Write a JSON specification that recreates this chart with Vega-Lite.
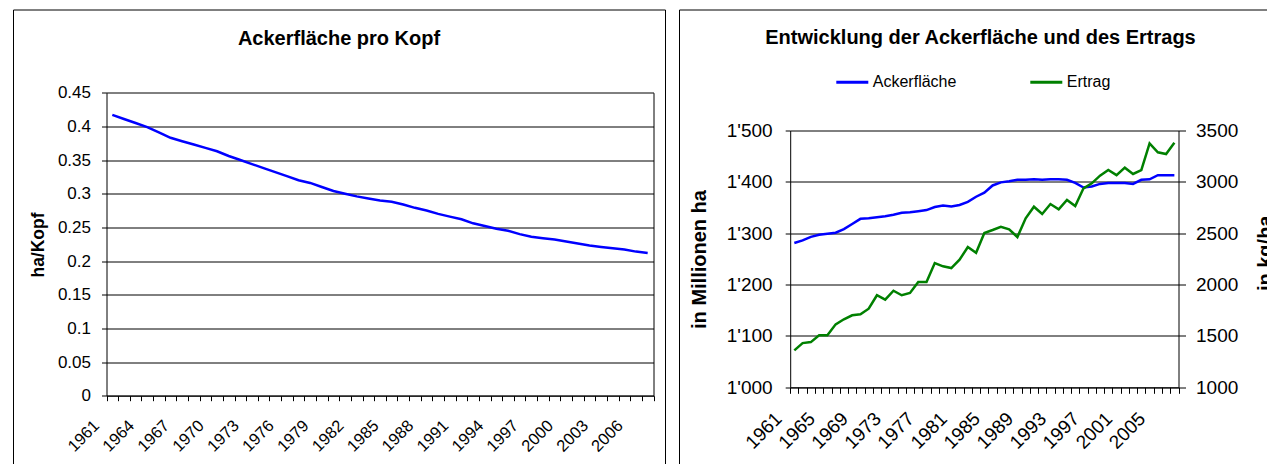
{
  "$schema": "https://vega.github.io/schema/vega-lite/v6.json",
  "padding": {"left": 6, "top": 8.5, "right": 0, "bottom": 0},
  "background": "white",
  "bounds": "flush",
  "spacing": 14,
  "config": {
    "view": {"stroke": "black", "strokeWidth": 1},
    "font": "Liberation Sans",
    "axis": {"labelFont": "Liberation Sans", "titleFont": "Liberation Sans", "labelColor": "black", "titleColor": "black", "domainColor": "black", "tickColor": "black", "gridColor": "black", "gridOpacity": 1, "labelOverlap": false, "labelBound": false, "labelFlush": false}
  },
  "datasets": {
    "kopf": [
      {"year": 1961, "v": 0.417}, {"year": 1962, "v": 0.411}, {"year": 1963, "v": 0.405}, {"year": 1964, "v": 0.399},
      {"year": 1965, "v": 0.391}, {"year": 1966, "v": 0.383}, {"year": 1967, "v": 0.378}, {"year": 1968, "v": 0.373},
      {"year": 1969, "v": 0.368}, {"year": 1970, "v": 0.363}, {"year": 1971, "v": 0.356}, {"year": 1972, "v": 0.350},
      {"year": 1973, "v": 0.344}, {"year": 1974, "v": 0.338}, {"year": 1975, "v": 0.332}, {"year": 1976, "v": 0.326},
      {"year": 1977, "v": 0.320}, {"year": 1978, "v": 0.316}, {"year": 1979, "v": 0.310}, {"year": 1980, "v": 0.304},
      {"year": 1981, "v": 0.300}, {"year": 1982, "v": 0.296}, {"year": 1983, "v": 0.293}, {"year": 1984, "v": 0.290},
      {"year": 1985, "v": 0.288}, {"year": 1986, "v": 0.284}, {"year": 1987, "v": 0.279}, {"year": 1988, "v": 0.275},
      {"year": 1989, "v": 0.270}, {"year": 1990, "v": 0.266}, {"year": 1991, "v": 0.262}, {"year": 1992, "v": 0.256},
      {"year": 1993, "v": 0.252}, {"year": 1994, "v": 0.248}, {"year": 1995, "v": 0.245}, {"year": 1996, "v": 0.240},
      {"year": 1997, "v": 0.236}, {"year": 1998, "v": 0.234}, {"year": 1999, "v": 0.232}, {"year": 2000, "v": 0.229},
      {"year": 2001, "v": 0.226}, {"year": 2002, "v": 0.223}, {"year": 2003, "v": 0.221}, {"year": 2004, "v": 0.219},
      {"year": 2005, "v": 0.217}, {"year": 2006, "v": 0.214}, {"year": 2007, "v": 0.212}
    ],
    "right": [
      {"year": 1961, "series": "Ackerfläche", "value": 1281}, {"year": 1962, "series": "Ackerfläche", "value": 1286},
      {"year": 1963, "series": "Ackerfläche", "value": 1293}, {"year": 1964, "series": "Ackerfläche", "value": 1297},
      {"year": 1965, "series": "Ackerfläche", "value": 1299}, {"year": 1966, "series": "Ackerfläche", "value": 1301},
      {"year": 1967, "series": "Ackerfläche", "value": 1308}, {"year": 1968, "series": "Ackerfläche", "value": 1318},
      {"year": 1969, "series": "Ackerfläche", "value": 1328}, {"year": 1970, "series": "Ackerfläche", "value": 1329},
      {"year": 1971, "series": "Ackerfläche", "value": 1331}, {"year": 1972, "series": "Ackerfläche", "value": 1333},
      {"year": 1973, "series": "Ackerfläche", "value": 1336}, {"year": 1974, "series": "Ackerfläche", "value": 1340},
      {"year": 1975, "series": "Ackerfläche", "value": 1341}, {"year": 1976, "series": "Ackerfläche", "value": 1343},
      {"year": 1977, "series": "Ackerfläche", "value": 1345}, {"year": 1978, "series": "Ackerfläche", "value": 1351},
      {"year": 1979, "series": "Ackerfläche", "value": 1354}, {"year": 1980, "series": "Ackerfläche", "value": 1352},
      {"year": 1981, "series": "Ackerfläche", "value": 1355}, {"year": 1982, "series": "Ackerfläche", "value": 1361},
      {"year": 1983, "series": "Ackerfläche", "value": 1371}, {"year": 1984, "series": "Ackerfläche", "value": 1379},
      {"year": 1985, "series": "Ackerfläche", "value": 1393}, {"year": 1986, "series": "Ackerfläche", "value": 1399},
      {"year": 1987, "series": "Ackerfläche", "value": 1401}, {"year": 1988, "series": "Ackerfläche", "value": 1404},
      {"year": 1989, "series": "Ackerfläche", "value": 1404}, {"year": 1990, "series": "Ackerfläche", "value": 1405},
      {"year": 1991, "series": "Ackerfläche", "value": 1404}, {"year": 1992, "series": "Ackerfläche", "value": 1405},
      {"year": 1993, "series": "Ackerfläche", "value": 1405}, {"year": 1994, "series": "Ackerfläche", "value": 1404},
      {"year": 1995, "series": "Ackerfläche", "value": 1398}, {"year": 1996, "series": "Ackerfläche", "value": 1389},
      {"year": 1997, "series": "Ackerfläche", "value": 1391}, {"year": 1998, "series": "Ackerfläche", "value": 1396},
      {"year": 1999, "series": "Ackerfläche", "value": 1398}, {"year": 2000, "series": "Ackerfläche", "value": 1398},
      {"year": 2001, "series": "Ackerfläche", "value": 1398}, {"year": 2002, "series": "Ackerfläche", "value": 1396},
      {"year": 2003, "series": "Ackerfläche", "value": 1404}, {"year": 2004, "series": "Ackerfläche", "value": 1405},
      {"year": 2005, "series": "Ackerfläche", "value": 1413}, {"year": 2006, "series": "Ackerfläche", "value": 1413},
      {"year": 2007, "series": "Ackerfläche", "value": 1413},
      {"year": 1961, "series": "Ertrag", "value": 1360}, {"year": 1962, "series": "Ertrag", "value": 1430},
      {"year": 1963, "series": "Ertrag", "value": 1440}, {"year": 1964, "series": "Ertrag", "value": 1506},
      {"year": 1965, "series": "Ertrag", "value": 1506}, {"year": 1966, "series": "Ertrag", "value": 1613},
      {"year": 1967, "series": "Ertrag", "value": 1662}, {"year": 1968, "series": "Ertrag", "value": 1701},
      {"year": 1969, "series": "Ertrag", "value": 1711}, {"year": 1970, "series": "Ertrag", "value": 1765},
      {"year": 1971, "series": "Ertrag", "value": 1896}, {"year": 1972, "series": "Ertrag", "value": 1853},
      {"year": 1973, "series": "Ertrag", "value": 1940}, {"year": 1974, "series": "Ertrag", "value": 1896},
      {"year": 1975, "series": "Ertrag", "value": 1918}, {"year": 1976, "series": "Ertrag", "value": 2025},
      {"year": 1977, "series": "Ertrag", "value": 2025}, {"year": 1978, "series": "Ertrag", "value": 2210},
      {"year": 1979, "series": "Ertrag", "value": 2178}, {"year": 1980, "series": "Ertrag", "value": 2161},
      {"year": 1981, "series": "Ertrag", "value": 2242}, {"year": 1982, "series": "Ertrag", "value": 2366},
      {"year": 1983, "series": "Ertrag", "value": 2310}, {"year": 1984, "series": "Ertrag", "value": 2502},
      {"year": 1985, "series": "Ertrag", "value": 2531}, {"year": 1986, "series": "Ertrag", "value": 2563},
      {"year": 1987, "series": "Ertrag", "value": 2538}, {"year": 1988, "series": "Ertrag", "value": 2463},
      {"year": 1989, "series": "Ertrag", "value": 2645}, {"year": 1990, "series": "Ertrag", "value": 2758},
      {"year": 1991, "series": "Ertrag", "value": 2687}, {"year": 1992, "series": "Ertrag", "value": 2784},
      {"year": 1993, "series": "Ertrag", "value": 2733}, {"year": 1994, "series": "Ertrag", "value": 2823},
      {"year": 1995, "series": "Ertrag", "value": 2765}, {"year": 1996, "series": "Ertrag", "value": 2937},
      {"year": 1997, "series": "Ertrag", "value": 2986}, {"year": 1998, "series": "Ertrag", "value": 3060},
      {"year": 1999, "series": "Ertrag", "value": 3115}, {"year": 2000, "series": "Ertrag", "value": 3066},
      {"year": 2001, "series": "Ertrag", "value": 3138}, {"year": 2002, "series": "Ertrag", "value": 3077},
      {"year": 2003, "series": "Ertrag", "value": 3115}, {"year": 2004, "series": "Ertrag", "value": 3375},
      {"year": 2005, "series": "Ertrag", "value": 3288}, {"year": 2006, "series": "Ertrag", "value": 3271},
      {"year": 2007, "series": "Ertrag", "value": 3381}
    ]
  },
  "hconcat": [
    {
      "width": 652,
      "height": 460,
      "title": {"text": "Ackerfläche pro Kopf", "fontSize": 20, "fontWeight": "bold", "font": "Liberation Sans", "color": "black", "anchor": "middle", "frame": "group", "baseline": "alphabetic", "offset": -55.6},
      "data": {"name": "kopf"},
      "layer": [
        {
          "mark": {"type": "line", "color": "#0000ff", "strokeWidth": 2.5},
          "encoding": {
            "x": {
              "field": "year", "type": "ordinal", "bandPosition": 0.5,
              "scale": {"type": "band", "range": [93.5, 640.5], "paddingInner": 0, "paddingOuter": 0},
              "axis": {"title": null, "orient": "bottom", "offset": -73.8, "tickBand": "extent", "tickSize": 5, "labelAngle": -45, "labelAlign": "right", "labelBaseline": "middle", "labelFontSize": 16.5, "labelPadding": 22, "labelOffset": -16, "labelExpr": "(datum.value - 1961) % 3 == 0 ? datum.label : ''", "grid": false}
            },
            "y": {
              "field": "v", "type": "quantitative",
              "scale": {"domain": [0, 0.45], "range": [386.2, 83.2], "nice": false, "zero": false},
              "axis": {"title": "ha/Kopf", "orient": "left", "offset": -93.5, "values": [0, 0.05, 0.1, 0.15, 0.2, 0.25, 0.3, 0.35, 0.4, 0.45], "format": "~g", "labelFontSize": 17, "tickSize": 5, "labelPadding": 11, "grid": true, "gridWidth": 1, "titleFontSize": 17.5, "titleFontWeight": "bold", "titleAngle": -90, "titleX": -68.5, "titleY": 235, "titleAlign": "center", "titleBaseline": "middle"}
            }
          }
        },
        {
          "mark": {"type": "line", "strokeOpacity": 0},
          "encoding": {
            "x": {"field": "year", "type": "ordinal", "bandPosition": 0.5},
            "y": {
              "field": "v", "type": "quantitative",
              "scale": {"domain": [0, 0.45], "range": [386.2, 83.2], "nice": false, "zero": false},
              "axis": {"title": null, "orient": "right", "offset": -11.5, "labels": false, "ticks": false, "grid": false, "values": [0, 0.45]}
            }
          }
        }
      ],
      "resolve": {"scale": {"y": "independent"}}
    },
    {
      "width": 603,
      "height": 460,
      "title": {"text": "Entwicklung der Ackerfläche und des Ertrags", "fontSize": 20, "fontWeight": "bold", "font": "Liberation Sans", "color": "black", "anchor": "middle", "frame": "group", "baseline": "alphabetic", "offset": -54.6},
      "data": {"name": "right"},
      "layer": [
        {
          "transform": [{"filter": "datum.series == 'Ackerfläche'"}],
          "mark": {"type": "line", "strokeWidth": 2.5},
          "encoding": {
            "x": {
              "field": "year", "type": "ordinal", "bandPosition": 0.5,
              "scale": {"type": "band", "range": [111.2, 499.5], "paddingInner": 0, "paddingOuter": 0},
              "axis": {"title": null, "orient": "bottom", "offset": -82.2, "tickBand": "extent", "tickSize": 6, "labelAngle": -45, "labelAlign": "right", "labelBaseline": "middle", "labelFontSize": 19, "labelPadding": 22, "labelOffset": -16, "labelExpr": "(datum.value - 1961) % 4 == 0 ? datum.label : ''", "grid": false}
            },
            "y": {
              "field": "value", "type": "quantitative",
              "scale": {"domain": [1000, 1500], "range": [377.8, 121], "nice": false, "zero": false},
              "axis": {"title": "in Millionen ha", "orient": "left", "offset": -111.2, "values": [1000, 1100, 1200, 1300, 1400, 1500], "labelExpr": "replace(format(datum.value, ','), ',', \"'\")", "labelFontSize": 19, "tickSize": 5, "labelPadding": 13, "grid": true, "gridWidth": 1, "titleFontSize": 20, "titleFontWeight": "bold", "titleAngle": -90, "titleX": -91, "titleY": 249.5, "titleAlign": "center", "titleBaseline": "middle"}
            },
            "color": {
              "field": "series", "type": "nominal",
              "scale": {"domain": ["Ackerfläche", "Ertrag"], "range": ["#0000ff", "#008000"]},
              "legend": {"orient": "none", "legendX": 821.8, "legendY": 55, "direction": "horizontal", "title": null, "symbolType": "stroke", "symbolSize": 1024, "symbolStrokeWidth": 3, "labelFontSize": 16, "labelFont": "Liberation Sans", "labelColor": "black", "labelOffset": 3, "columnPadding": 67, "padding": 0}
            }
          }
        },
        {
          "transform": [{"filter": "datum.series == 'Ertrag'"}],
          "mark": {"type": "line", "strokeWidth": 2.5},
          "encoding": {
            "x": {"field": "year", "type": "ordinal", "bandPosition": 0.5},
            "y": {
              "field": "value", "type": "quantitative",
              "scale": {"domain": [1000, 3500], "range": [377.8, 121], "nice": false, "zero": false},
              "axis": {"title": "in kg/ha", "orient": "right", "offset": -103.5, "values": [1000, 1500, 2000, 2500, 3000, 3500], "format": "d", "labelFontSize": 19, "tickSize": 7, "labelPadding": 10, "grid": false, "titleFontSize": 20, "titleFontWeight": "bold", "titleAngle": -90, "titleX": 87.2, "titleY": 243.3, "titleAlign": "center", "titleBaseline": "middle"}
            },
            "color": {"field": "series", "type": "nominal"}
          }
        }
      ],
      "resolve": {"scale": {"y": "independent"}}
    }
  ]
}
